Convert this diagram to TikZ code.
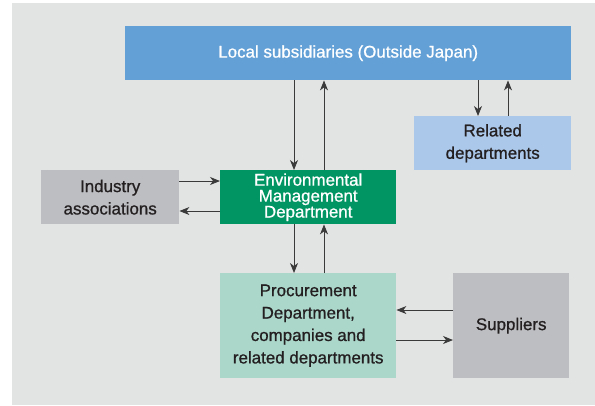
\documentclass[tikz,border=0pt]{standalone}
\usepackage{fontspec}
\setmainfont{Liberation Sans}
\newfontface\medface{Liberation Sans}[FakeBold=0.9]
\usetikzlibrary{arrows.meta}
\definecolor{bgc}{HTML}{E2E4E3}
\definecolor{bluec}{HTML}{62A0D6}
\definecolor{lbluec}{HTML}{ABC8EA}
\definecolor{grayc}{HTML}{BDBEC2}
\definecolor{greenc}{HTML}{009562}
\definecolor{mintc}{HTML}{ABD6CA}
\definecolor{txtc}{HTML}{231F20}
\definecolor{linec}{HTML}{3A3A3A}
\tikzset{
  box/.style={inner sep=0pt, align=center, text=txtc,
    font=\medface\fontsize{17}{22.5}\selectfont},
  arr/.style={draw=linec, line width=0.9pt, -{Stealth[length=10pt,width=8pt,inset=3pt]}},
}
\begin{document}
\begin{tikzpicture}[x=1bp,y=-1bp]
\useasboundingbox (0,0) rectangle (595,405);
\fill[bgc] (12,3) rectangle (595,405);
\node[box, fill=bluec, text=white, minimum width=446bp, minimum height=54bp, anchor=north west] (local) at (125,26) {Local subsidiaries (Outside Japan)};
\node[box, fill=lbluec, minimum width=157bp, minimum height=54bp, anchor=north west] (rel) at (414,116) {Related\\departments};
\node[box, fill=grayc, minimum width=138bp, minimum height=54bp, anchor=north west] (ind) at (41,170) {Industry\\associations};
\node[box, fill=greenc, text=white, minimum width=176bp, minimum height=54bp, anchor=north west, font=\medface\fontsize{17}{16}\selectfont] (emd) at (220,170) {Environmental\\Management\\Department};
\node[box, fill=mintc, minimum width=176bp, minimum height=105bp, anchor=north west] (proc) at (220,273) {Procurement\\Department,\\companies and\\related departments};
\node[box, fill=grayc, minimum width=116bp, minimum height=105bp, anchor=north west] (sup) at (453,273) {Suppliers};
\coordinate (xa) at (294,0);
\coordinate (xb) at (324,0);
\coordinate (xc) at (478,0);
\coordinate (xd) at (508,0);
\coordinate (ya) at (0,181);
\coordinate (yb) at (0,211);
\coordinate (yc) at (0,310);
\coordinate (yd) at (0,340);
\draw[arr] (local.south -| xa) -- (emd.north -| xa);
\draw[arr] (emd.north -| xb) -- (local.south -| xb);
\draw[arr] (local.south -| xc) -- (rel.north -| xc);
\draw[arr] (rel.north -| xd) -- (local.south -| xd);
\draw[arr] (ind.east |- ya) -- (emd.west |- ya);
\draw[arr] (emd.west |- yb) -- (ind.east |- yb);
\draw[arr] (emd.south -| xa) -- (proc.north -| xa);
\draw[arr] (proc.north -| xb) -- (emd.south -| xb);
\draw[arr] (sup.west |- yc) -- (proc.east |- yc);
\draw[arr] (proc.east |- yd) -- (sup.west |- yd);
\end{tikzpicture}
\end{document}
